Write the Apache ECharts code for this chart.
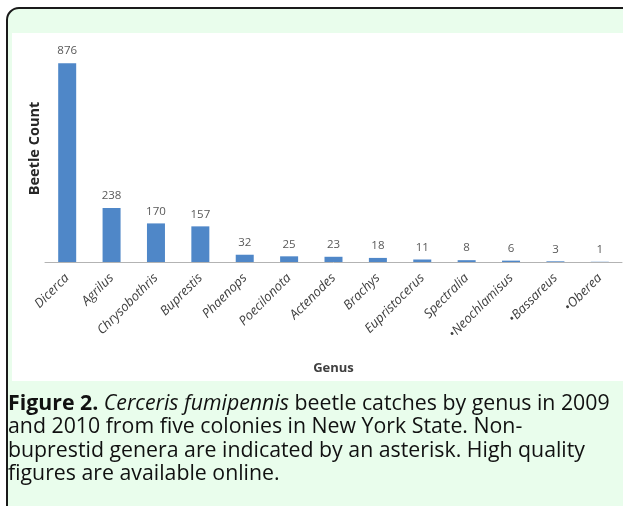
<!DOCTYPE html>
<html>
<head>
<meta charset="utf-8">
<script src="https://cdn.jsdelivr.net/npm/echarts@6/dist/echarts.min.js"></script>
<style>
html, body { margin: 0; padding: 0; background: #ffffff; }
#chart { width: 623px; height: 506px; }
</style>
</head>
<body>
<div id="chart"></div>
<script>
var genera = ['Dicerca', 'Agrilus', 'Chrysobothris', 'Buprestis', 'Phaenops', 'Poecilonota',
    'Actenodes', 'Brachys', 'Eupristocerus', 'Spectralia', '•Neochlamisus', '•Bassareus', '•Oberea'];
var counts = [876, 238, 170, 157, 32, 25, 23, 18, 11, 8, 6, 3, 1];

var captionLines = [
    '{b|Figure 2.} {i|Cerceris fumipennis} beetle catches by genus in 2009',
    'and 2010 from five colonies in New York State. Non-',
    'buprestid genera are indicated by an asterisk. High quality',
    'figures are available online.'
];

var chart = echarts.init(document.getElementById('chart'));

var captionFont = '"Open Sans", Lato, sans-serif';
var chartFont = '"Open Sans", sans-serif';
var capSize = 21.3;
var graphics = [
    // frame with green fill
    {
        type: 'rect',
        z: -10,
        shape: {x: 7, y: 8, width: 660, height: 540, r: 12},
        style: {fill: '#e9fdec', stroke: '#1a1a1a', lineWidth: 2}
    },
    // white chart panel
    {
        type: 'rect',
        z: -9,
        shape: {x: 12, y: 33, width: 620, height: 348},
        style: {fill: '#ffffff'}
    }
];
for (var i = 0; i < captionLines.length; i++) {
    graphics.push({
        type: 'text',
        left: 8,
        top: 393 + i * 23.5,
        style: {
            text: captionLines[i],
            font: capSize + 'px ' + captionFont,
            fill: '#111111',
            rich: {
                b: {fontWeight: 'bold', fontSize: capSize, fontFamily: captionFont, fill: '#111111'},
                i: {fontStyle: 'italic', fontSize: capSize, fontFamily: captionFont, fill: '#111111'}
            }
        }
    });
}

var option = {
    animation: false,
    backgroundColor: '#ffffff',
    graphic: graphics,
    grid: {
        left: 45,
        right: 1,
        top: 35,
        bottom: 244
    },
    xAxis: {
        type: 'category',
        data: genera,
        name: 'Genus',
        nameLocation: 'middle',
        nameGap: 100,
        nameTextStyle: {
            fontFamily: chartFont,
            fontWeight: 'bold',
            fontSize: 13,
            color: '#404040'
        },
        axisLine: {lineStyle: {color: '#b3b3b3', width: 1}},
        axisTick: {length: 5, lineStyle: {color: '#b3b3b3'}},
        axisLabel: {
            rotate: 45,
            interval: 0,
            margin: 14,
            fontFamily: chartFont,
            fontStyle: 'italic',
            fontSize: 13,
            color: '#404040'
        }
    },
    yAxis: {
        type: 'value',
        min: 0,
        max: 1000,
        name: 'Beetle Count',
        nameLocation: 'middle',
        nameGap: 3,
        nameRotate: 90,
        nameTextStyle: {
            fontFamily: chartFont,
            fontWeight: 'bold',
            fontSize: 14.5,
            color: '#262626'
        },
        axisLine: {show: false},
        axisTick: {show: false},
        axisLabel: {show: false},
        splitLine: {show: false}
    },
    series: [{
        type: 'bar',
        data: counts,
        barWidth: 18,
        itemStyle: {color: '#4f87c8'},
        label: {
            show: true,
            position: 'top',
            distance: 6,
            fontFamily: chartFont,
            fontSize: 11.5,
            color: '#595959'
        }
    }]
};

chart.setOption(option);
</script>
</body>
</html>
